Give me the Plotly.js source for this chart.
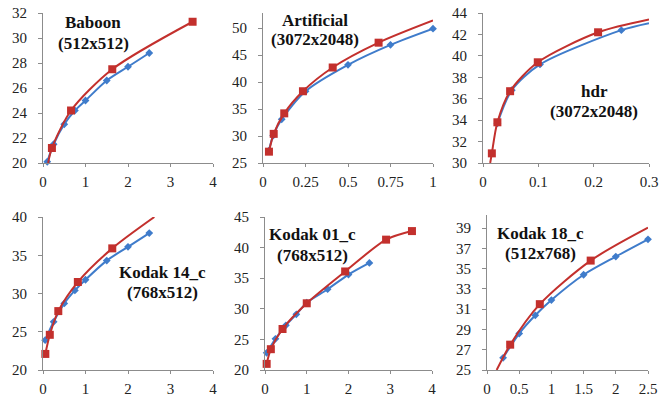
<!DOCTYPE html>
<html><head><meta charset="utf-8">
<script src="https://cdn.plot.ly/plotly-3.0.1.min.js"></script>
<style>html,body{margin:0;padding:0;background:#fff}#c{width:669px;height:403px}</style>
</head><body><div id="c"></div>
<script>
// ---- data ----
const titles = [["Baboon", "(512x512)"], ["Artificial", "(3072x2048)"], ["hdr", "(3072x2048)"],
                ["Kodak 14_c", "(768x512)"], ["Kodak 01_c", "(768x512)"], ["Kodak 18_c", "(512x768)"]];

// Baboon
const bab_blueX = [0.1, 0.25, 0.5, 0.75, 1, 1.5, 2, 2.5];
const bab_blueY = [20.1, 21.5, 23.1, 24.2, 25.0, 26.6, 27.7, 28.8];
const bab_redX  = [0.21, 0.66, 1.63, 3.52];
const bab_redY  = [21.2, 24.2, 27.5, 31.3];
const bab_redStart = [0.12, 20.0];
const bab_redEnd = null;

// Artificial
const art_blueX = [0.035, 0.06, 0.11, 0.25, 0.5, 0.75, 1.0];
const art_blueY = [27.3, 30.1, 33.1, 38.3, 43.2, 46.9, 49.9];
const art_redX  = [0.035, 0.063, 0.125, 0.235, 0.41, 0.68];
const art_redY  = [27.1, 30.4, 34.2, 38.3, 42.7, 47.3];
const art_redStart = null;
const art_redEnd = [1.0, 51.4];

// hdr
const hdr_blueX = [0.026, 0.052, 0.103, 0.25];
const hdr_blueY = [33.7, 36.8, 39.2, 42.4];
const hdr_blueEnd = [0.3, 43.05];
const hdr_redX  = [0.016, 0.026, 0.049, 0.099, 0.208];
const hdr_redY  = [30.9, 33.8, 36.7, 39.4, 42.2];
const hdr_redStart = [0.013, 30.0];
const hdr_redEnd = [0.3, 43.4];

// Kodak 14_c
const k14_blueX = [0.05, 0.25, 0.5, 0.75, 1.0, 1.5, 2.0, 2.5];
const k14_blueY = [23.9, 26.3, 28.7, 30.4, 31.8, 34.3, 36.1, 37.9];
const k14_redX  = [0.055, 0.16, 0.36, 0.82, 1.63];
const k14_redY  = [22.1, 24.6, 27.7, 31.5, 35.9];
const k14_redEnd = [2.62, 40.0];

// Kodak 01_c
const k01_blueX = [0.04, 0.25, 0.5, 0.75, 1.0, 1.5, 2.0, 2.5];
const k01_blueY = [22.8, 25.1, 27.3, 29.1, 31.0, 33.2, 35.6, 37.5];
const k01_redX  = [0.04, 0.14, 0.42, 1.0, 1.92, 2.9, 3.52];
const k01_redY  = [21.0, 23.4, 26.7, 30.9, 36.1, 41.3, 42.7];

// Kodak 18_c
const k18_blueX = [0.25, 0.5, 0.75, 1.0, 1.5, 2.0, 2.5];
const k18_blueY = [26.2, 28.6, 30.4, 31.9, 34.4, 36.2, 37.9];
const k18_redX  = [0.36, 0.82, 1.61];
const k18_redY  = [27.5, 31.5, 35.8];
const k18_redStart = [0.15, 25.0];
const k18_redEnd = [2.5, 39.05];

// ---- helpers ----
const BLUE = "#3F7CCB", RED = "#C3302D";
function withExt(xs, ys, start, end) {
  const X = xs.slice(), Y = ys.slice();
  if (start) { X.unshift(start[0]); Y.unshift(start[1]); }
  if (end) { X.push(end[0]); Y.push(end[1]); }
  return [X, Y];
}
const traces = [];
function addSeries(n, xs, ys, start, end, color, symbol, size) {
  const ax = n === 1 ? "" : String(n);
  const [X, Y] = withExt(xs, ys, start, end);
  traces.push({x: X, y: Y, xaxis: "x" + ax, yaxis: "y" + ax, mode: "lines",
    line: {color: color, width: 2, shape: "spline", smoothing: 0.8}, hoverinfo: "skip"});
  traces.push({x: xs, y: ys, xaxis: "x" + ax, yaxis: "y" + ax, mode: "markers", cliponaxis: false,
    marker: {color: color, symbol: symbol, size: size}});
}
addSeries(1, bab_blueX, bab_blueY, null, null, BLUE, "diamond", 6);
addSeries(1, bab_redX, bab_redY, bab_redStart, bab_redEnd, RED, "square", 8);
addSeries(2, art_blueX, art_blueY, null, null, BLUE, "diamond", 6);
addSeries(2, art_redX, art_redY, art_redStart, art_redEnd, RED, "square", 8);
addSeries(3, hdr_blueX, hdr_blueY, null, hdr_blueEnd, BLUE, "diamond", 6);
addSeries(3, hdr_redX, hdr_redY, hdr_redStart, hdr_redEnd, RED, "square", 8);
addSeries(4, k14_blueX, k14_blueY, null, null, BLUE, "diamond", 6);
addSeries(4, k14_redX, k14_redY, null, k14_redEnd, RED, "square", 8);
addSeries(5, k01_blueX, k01_blueY, null, null, BLUE, "diamond", 6);
addSeries(5, k01_redX, k01_redY, null, null, RED, "square", 8);
addSeries(6, k18_blueX, k18_blueY, null, null, BLUE, "diamond", 6);
addSeries(6, k18_redX, k18_redY, k18_redStart, k18_redEnd, RED, "square", 8);

const W = 669, H = 403;
const px = (a, b) => [a / W, b / W];
const py = (top, bot) => [1 - bot / H, 1 - top / H];
const font = {family: "Liberation Serif, Times New Roman, serif", size: 15, color: "#222"};
function xaxis(dom, range, extra) {
  return Object.assign({domain: dom, range: range, showgrid: false, zeroline: false,
    showline: true, linecolor: "#8c8c8c", linewidth: 1, ticks: "outside", ticklen: 3,
    tickcolor: "#8c8c8c", tickfont: font, ticklabelstandoff: 2, fixedrange: true}, extra || {});
}
function yaxis(dom, range, extra) {
  return Object.assign({domain: dom, range: range, showgrid: false, zeroline: false,
    showline: true, linecolor: "#8c8c8c", linewidth: 1, ticks: "outside", ticklen: 4,
    tickcolor: "#8c8c8c", tickfont: font, ticklabelstandoff: 8, fixedrange: true}, extra || {});
}
const layout = {
  width: W, height: H, margin: {l: 0, r: 0, t: 0, b: 0}, showlegend: false,
  paper_bgcolor: "#fff", plot_bgcolor: "#fff", font: font,
  xaxis:  xaxis(px(43, 213), [0, 4], {dtick: 1, anchor: "y"}),
  yaxis:  yaxis(py(13, 163), [20, 32], {dtick: 2, anchor: "x"}),
  xaxis2: xaxis(px(263, 433), [0, 1], {tickvals: [0, 0.25, 0.5, 0.75, 1], ticktext: ["0", "0.25", "0.5", "0.75", "1"], anchor: "y2"}),
  yaxis2: yaxis(py(13, 163), [25, 52.8], {tickvals: [25, 30, 35, 40, 45, 50], anchor: "x2"}),
  xaxis3: xaxis(px(483, 649), [0, 0.3], {tickvals: [0, 0.1, 0.2, 0.3], ticktext: ["0", "0.1", "0.2", "0.3"], anchor: "y3"}),
  yaxis3: yaxis(py(13, 163), [30, 44], {dtick: 2, anchor: "x3"}),
  xaxis4: xaxis(px(43, 213), [0, 4], {dtick: 1, anchor: "y4"}),
  yaxis4: yaxis(py(217, 370), [20, 40], {dtick: 5, anchor: "x4"}),
  xaxis5: xaxis(px(265, 432), [0, 4], {dtick: 1, anchor: "y5"}),
  yaxis5: yaxis(py(217, 370), [20, 45], {dtick: 5, anchor: "x5"}),
  xaxis6: xaxis(px(487, 648), [0, 2.5], {tickvals: [0, 0.5, 1, 1.5, 2, 2.5], ticktext: ["0", "0.5", "1", "1.5", "2", "2.5"], anchor: "y6"}),
  yaxis6: yaxis(py(215, 370), [25, 40.3], {tickvals: [25, 27, 29, 31, 33, 35, 37, 39], anchor: "x6"}),
  annotations: []
};
// centre x, first-line y, second-line y (pixels)
const titlePos = [[93, 23, 43], [315, 20, 39], [594, 92, 112], [162, 272, 292], [312, 235, 255], [540, 233, 253]];
titles.forEach((t, i) => {
  t.forEach((line, j) => {
    layout.annotations.push({text: "<b>" + line + "</b>", xref: "paper", yref: "paper",
      x: titlePos[i][0] / W, y: 1 - titlePos[i][1 + j] / H, xanchor: "center", yanchor: "middle",
      showarrow: false,
      font: {family: "Liberation Serif, Times New Roman, serif", size: 17, color: "#111"}});
  });
});
Plotly.newPlot("c", traces, layout, {staticPlot: true});
</script></body></html>
